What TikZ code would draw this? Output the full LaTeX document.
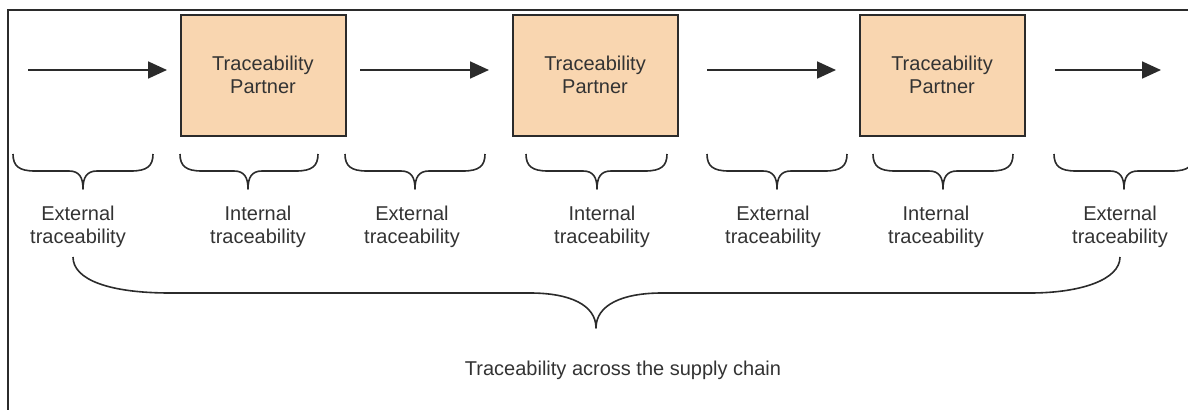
\documentclass[tikz,border=0pt]{standalone}
\usepackage{fontspec}
\setmainfont{Liberation Sans}
\usetikzlibrary{arrows.meta}
\definecolor{peach}{HTML}{F9D6B0}
\definecolor{txt}{HTML}{333333}
\definecolor{ln}{HTML}{2B2B2B}
\begin{document}
\begin{tikzpicture}[x=1pt,y=-1pt,
  partner/.style={draw=ln,line width=2pt,fill=peach,minimum width=165pt,minimum height=121pt,inner sep=0pt,
    text=txt,font=\fontsize{20}{22.5}\selectfont,align=center},
  lbl/.style={text=txt,font=\fontsize{20}{22.5}\selectfont,align=center,inner sep=0pt},
  flow/.style={draw=ln,line width=1.8pt,-{Triangle[length=19pt,width=17pt]}},
  brc/.style={draw=ln,line width=1.6pt,line join=round}]
\useasboundingbox (0,0) rectangle (1188,410);
% frame
\draw[ln,line width=2pt] (1188,10) -- (8,10) -- (8,410);
% partners
\node[partner] (p1) at (263,75) {Traceability\\Partner};
\node[partner] (p2) at (595,75) {Traceability\\Partner};
\node[partner] (p3) at (942,75) {Traceability\\Partner};
% arrows
\coordinate (a0) at (28,70);
\coordinate (a1) at (167,70);
\coordinate (b0) at (360,70);
\coordinate (b1) at (489,70);
\coordinate (c0) at (707,70);
\coordinate (c1) at (836,70);
\coordinate (d0) at (1055,70);
\coordinate (d1) at (1161,70);
\draw[flow] (a0) -- (a1);
\draw[flow] (b0) -- (b1);
\draw[flow] (c0) -- (c1);
\draw[flow] (d0) -- (d1);
% small braces
\foreach \xl/\xr/\xc [count=\i] in {13/153/83, 180/318/248, 345/485/415, 526/667/597, 707/847/777, 873/1013/943, 1054/1194/1124}{
  \draw[brc] (\xl,154) .. controls (\xl,166) and (\xl+6,171) .. (\xl+22,171)
    -- (\xc-14,171) .. controls (\xc-4,171) and (\xc,177) .. (\xc,189)
    .. controls (\xc,177) and (\xc+4,171) .. (\xc+14,171)
    -- (\xr-22,171) .. controls (\xr-6,171) and (\xr,166) .. (\xr,154);
}
% labels
\node[lbl] (e1) at (78,227) {External\\traceability};
\node[lbl] (i1) at (258,227) {Internal\\traceability};
\node[lbl] (e2) at (412,227) {External\\traceability};
\node[lbl] (i2) at (602,227) {Internal\\traceability};
\node[lbl] (e3) at (773,227) {External\\traceability};
\node[lbl] (i3) at (936,227) {Internal\\traceability};
\node[lbl] (e4) at (1120,227) {External\\traceability};
% big brace
\coordinate (g0) at (73,257);
\coordinate (g1) at (1120,257);
\coordinate (gt) at (596,328);
\draw[brc] (g0) .. controls (73,280) and (110,293) .. (170,293)
  -- (530,293) .. controls (570,293) and (596,305) .. (gt)
  .. controls (596,305) and (622,293) .. (662,293)
  -- (1030,293) .. controls (1080,293) and (1120,280) .. (g1);
\node[lbl] (sc) at (623,370) {Traceability across the supply chain};
\end{tikzpicture}
\end{document}
